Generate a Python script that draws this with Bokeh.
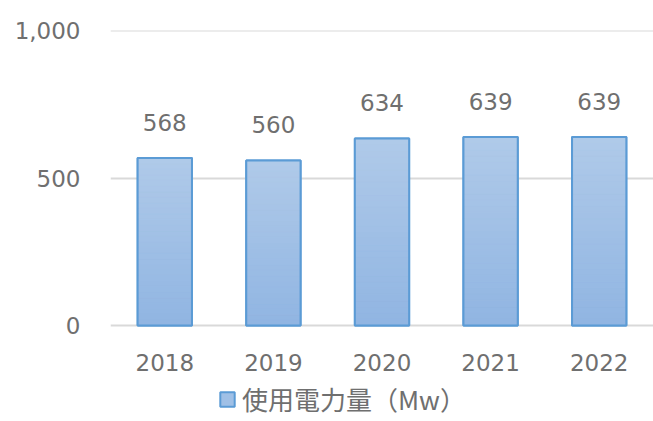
from bokeh.plotting import figure
from bokeh.models import ColumnDataSource, Legend, LegendItem, NumeralTickFormatter, FixedTicker, Range1d
from bokeh.core.properties import value
from bokeh.embed import file_html
from bokeh.resources import INLINE

years = ["2018", "2019", "2020", "2021", "2022"]
usage = [568, 560, 634, 639, 639]
series_name = "使用電力量（Mw）"
y_ticks = [0, 500, 1000]

TEXT = "#6f6f6f"
FONT = "DejaVu Sans"

# frame spans the whole lower area; value 0 sits 96px above the bottom edge
p = figure(x_range=years, y_range=Range1d(-325.4, 1000.5), width=653, height=421,
           output_backend="svg", toolbar_location=None,
           min_border_left=110, min_border_right=0, min_border_top=30, min_border_bottom=0)
p.outline_line_color = None
p.background_fill_color = "white"
p.xaxis.visible = False

src = ColumnDataSource(dict(x=years, top=usage, label=[str(v) for v in usage],
                            base=[0] * len(years)))

# base bar (used for legend)
base = p.vbar(x="x", top="top", width=0.5, source=src, fill_color="#a0c0e6",
              line_color="#5b9bd5", line_width=2)

# gradient strips computed from data
N = 30
c_bot = (0x90, 0xb5, 0xe2)
c_top = (0xb0, 0xca, 0xe9)
for i in range(N):
    t = (i + 0.5) / N
    col = "#%02x%02x%02x" % tuple(int(round(b + (a - b) * t)) for a, b in zip(c_top, c_bot))
    p.vbar(x=years, bottom=[v * i / N for v in usage], top=[v * (i + 1) / N for v in usage],
           width=0.5, fill_color=col, line_color=col, line_width=0.6)

p.vbar(x="x", top="top", width=0.5, source=src, fill_alpha=0,
       line_color="#5b9bd5", line_width=2)

# value labels
p.text(x="x", y="top", text="label", source=src, text_align="center", text_baseline="middle",
       y_offset=-36, text_font=value(FONT), text_font_size="23px", text_color=TEXT)
# category labels under the baseline
p.text(x="x", y="base", text="x", source=src, text_align="center", text_baseline="middle",
       y_offset=37, text_font=value(FONT), text_font_size="23px", text_color=TEXT)

p.yaxis.ticker = FixedTicker(ticks=y_ticks)
p.yaxis.formatter = NumeralTickFormatter(format="0,0")
p.ygrid.ticker = FixedTicker(ticks=y_ticks)
p.ygrid.grid_line_color = "#d9d9d9"
p.ygrid.grid_line_width = 2
p.xgrid.grid_line_color = None

ax = p.yaxis[0]
ax.axis_line_color = None
ax.major_tick_line_color = None
ax.minor_tick_line_color = None
ax.major_tick_out = 0
ax.major_tick_in = 0
ax.major_label_text_font = FONT
ax.major_label_text_font_size = "23px"
ax.major_label_text_color = TEXT
ax.major_label_standoff = 30

legend = Legend(items=[LegendItem(label=series_name, renderers=[base])],
                location=(108, 4), orientation="horizontal",
                label_text_font="Noto Sans CJK JP", label_text_font_size="26px",
                label_text_color=TEXT, glyph_width=18, glyph_height=18,
                border_line_color=None, background_fill_alpha=0, margin=0, padding=0,
                label_standoff=6)
p.add_layout(legend, "center")

open("out.html", "w").write(file_html(p, INLINE))
